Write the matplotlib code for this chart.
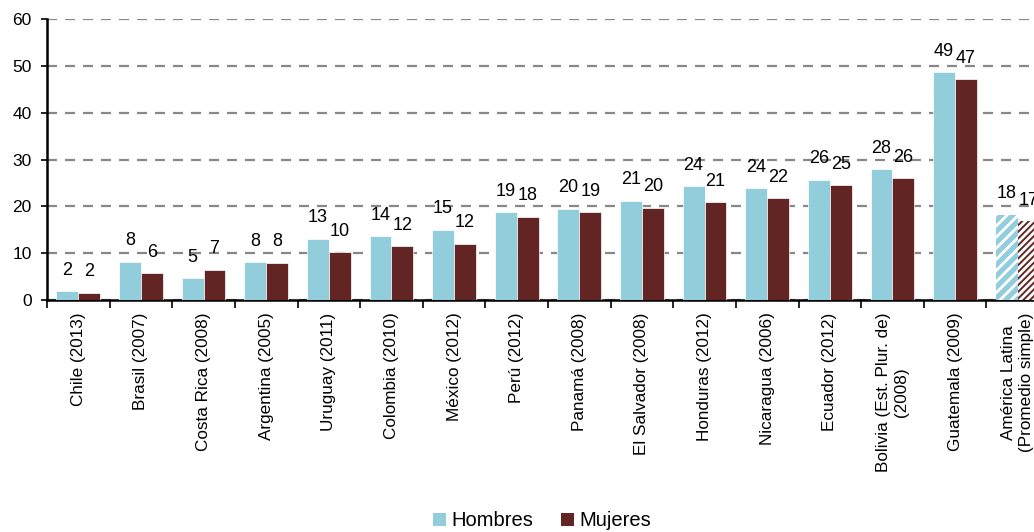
import matplotlib
matplotlib.use("Agg")
import matplotlib.pyplot as plt
import numpy as np
from matplotlib.patches import Patch

plt.rcParams['font.family'] = ['Liberation Sans', 'DejaVu Sans']
plt.rcParams['hatch.linewidth'] = 2.0

categories = ["Chile (2013)", "Brasil (2007)", "Costa Rica (2008)", "Argentina (2005)",
              "Uruguay (2011)", "Colombia (2010)", "México (2012)", "Perú (2012)",
              "Panamá (2008)", "El Salvador (2008)", "Honduras (2012)", "Nicaragua (2006)",
              "Ecuador (2012)", "Bolivia (Est. Plur. de)\n(2008)", "Guatemala (2009)",
              "América Latina\n(Promedio simple)"]
hombres = [1.9, 8.2, 4.7, 8.1, 13.1, 13.6, 15.0, 18.7, 19.5, 21.2, 24.3, 23.9, 25.7, 28.0, 48.6, 18.2]
mujeres = [1.6, 5.7, 6.5, 8.0, 10.2, 11.5, 12.0, 17.8, 18.8, 19.7, 20.9, 21.8, 24.5, 26.0, 47.2, 16.8]
hombres_lbl = [2, 8, 5, 8, 13, 14, 15, 19, 20, 21, 24, 24, 26, 28, 49, 18]
mujeres_lbl = [2, 6, 7, 8, 10, 12, 12, 18, 19, 20, 21, 22, 25, 26, 47, 17]

c_h = "#92CDDC"
c_m = "#632523"

fig = plt.figure(figsize=(10.34, 5.32), dpi=100)
ax = fig.add_axes([47/1034, (532-300)/532, (1049-47)/1034, (300-19)/532])

n = len(categories)
x = np.arange(n)
w = 0.35
for i in range(n):
    last = (i == n - 1)
    if last:
        ax.bar(x[i] - w/2, hombres[i], w, color=c_h, edgecolor="white", linewidth=0,
               hatch="///", zorder=3)
        ax.bar(x[i] + w/2, mujeres[i], w, color=c_m, edgecolor="white", linewidth=0,
               hatch="/////", zorder=3)
    else:
        ax.bar(x[i] - w/2, hombres[i], w, color=c_h, edgecolor="white", linewidth=0.5, zorder=3)
        ax.bar(x[i] + w/2, mujeres[i], w, color=c_m, edgecolor="white", linewidth=0.5, zorder=3)
    ax.annotate(str(hombres_lbl[i]), (x[i] - w/2, hombres[i]), xytext=(0, 15),
                textcoords="offset points", ha="center", va="center", fontsize=13, zorder=4)
    ax.annotate(str(mujeres_lbl[i]), (x[i] + w/2, mujeres[i]), xytext=(0, 15),
                textcoords="offset points", ha="center", va="center", fontsize=13, zorder=4)

ax.set_xlim(-0.5, n - 0.5)
ax.set_ylim(0, 60)
ax.set_yticks(range(0, 61, 10))
ax.tick_params(axis='y', labelsize=12.5, length=4, width=1.2, direction='out', pad=7)
ax.set_xticks(x)
ax.set_xticklabels(categories, rotation=90, fontsize=12.3, va='top', ha='center',
                   multialignment='center')
ax.tick_params(axis='x', which='major', length=0, pad=9)
ax.set_xticks(np.arange(-0.5, n, 1.0), minor=True)
ax.tick_params(axis='x', which='minor', length=6, width=1.2, direction='out')

ax.grid(axis='y', color='#888888', linestyle=(0, (4.5, 3.6)), linewidth=1.6, zorder=0)
ax.set_axisbelow(True)
for s in ['top', 'right']:
    ax.spines[s].set_visible(False)
ax.spines['left'].set_linewidth(1.8)
ax.spines['bottom'].set_linewidth(1.8)

handles = [Patch(facecolor=c_h, label="Hombres"), Patch(facecolor=c_m, label="Mujeres")]
fig.legend(handles=handles, loc='center', bbox_to_anchor=(542/1034, 1 - 521/532), ncol=2,
           frameon=False, fontsize=14.5, handlelength=0.65, handleheight=0.65,
           handletextpad=0.25, columnspacing=1.4, borderpad=0)

fig.savefig("out.png", dpi=100)
